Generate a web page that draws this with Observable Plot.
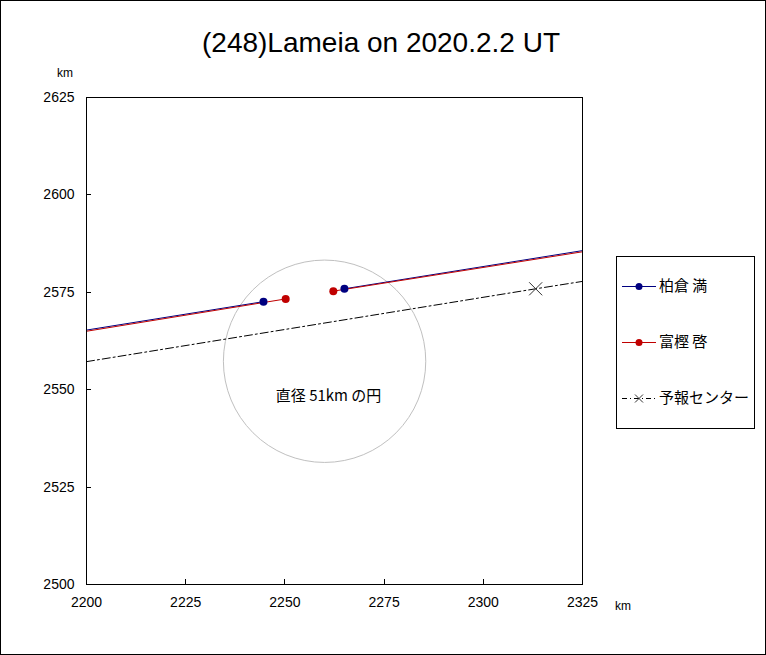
<!DOCTYPE html>
<html>
<head>
<meta charset="utf-8">
<script src="https://cdn.jsdelivr.net/npm/d3@7"></script>
<script src="https://cdn.jsdelivr.net/npm/@observablehq/plot@0.6"></script>
<style>
  body { margin: 0; background: #fff; }
  #chart { width: 766px; height: 655px; }
  svg { display: block; }
</style>
</head>
<body>
<div id="chart"></div>
<script>
// ---- data ----
const title = "(248)Lameia on 2020.2.2 UT";
const xTicks = [2200, 2225, 2250, 2275, 2300, 2325];
const yTicks = [2500, 2525, 2550, 2575, 2600, 2625];
const seriesNames = ["柏倉 満", "富樫 啓", "予報センター"];
const seriesColors = ["#000080", "#c00000", "#000000"];

// observer 1 (柏倉 満): chord line points (x, y) ; indices 1,2 = disappearance / reappearance
const obs1X = [2200, 2244.6, 2265.0, 2325];
const obs1Y = [2565.3, 2572.6, 2575.9, 2585.7];
// observer 2 (富樫 啓)
const obs2X = [2200, 2250.2, 2262.2, 2325];
const obs2Y = [2565.0, 2573.3, 2575.3, 2585.4];
// prediction centre line; index 1 = predicted centre
const predX = [2200, 2313.2, 2325];
const predY = [2557.2, 2575.9, 2577.8];

const circleCenter = [2260.0, 2557.3];
const circleDiameter = 51; // km
const circleLabel = "直径 51km の円";
const circleLabelPos = [2261.0, 2548.3];

// ---- build tables ----
function segs(X, Y, name) {
  return [
    {x: X[0], y: Y[0], z: name + "a"}, {x: X[1], y: Y[1], z: name + "a"},
    {x: X[2], y: Y[2], z: name + "b"}, {x: X[3], y: Y[3], z: name + "b"}
  ];
}
const line1 = segs(obs1X, obs1Y, "o1");
const line2 = segs(obs2X, obs2Y, "o2");
const dots1 = [1, 2].map(i => ({x: obs1X[i], y: obs1Y[i]}));
const dots2 = [1, 2].map(i => ({x: obs2X[i], y: obs2Y[i]}));
const pred = predX.map((x, i) => ({x, y: predY[i]}));

const W = 766, H = 655;
const mL = 86, mR = 184, mT = 97, mB = 71;
const pxPerKm = (W - mL - mR) / (xTicks[xTicks.length - 1] - xTicks[0]);
const FONT = "'Liberation Sans', 'Noto Sans CJK JP', sans-serif";
const JFONT = "'Noto Sans CJK JP', sans-serif";

const plot = Plot.plot({
  width: W, height: H,
  marginLeft: mL, marginRight: mR, marginTop: mT, marginBottom: mB,
  style: {background: "#fff", fontFamily: FONT, fontSize: "14px", color: "#000"},
  x: {domain: [2200, 2325], ticks: xTicks},
  y: {domain: [2500, 2625], ticks: yTicks},
  marks: [
    Plot.axisX({ticks: xTicks, tickSize: 0, tickPadding: 13, tickFormat: d => String(d), label: null, fontSize: 14}),
    Plot.axisY({ticks: yTicks, tickSize: 0, tickPadding: 12, tickFormat: d => String(d), label: null, fontSize: 14}),
    Plot.dot([{x: circleCenter[0], y: circleCenter[1]}], {x: "x", y: "y", r: circleDiameter / 2 * pxPerKm, stroke: "#c0c0c0", fill: "none", strokeWidth: 1}),
    Plot.text([{x: circleLabelPos[0], y: circleLabelPos[1]}], {x: "x", y: "y", text: () => circleLabel, fontSize: 15, fontFamily: JFONT, fill: "#000"}),
    Plot.line(pred, {x: "x", y: "y", stroke: "#000", strokeWidth: 1, strokeDasharray: "8,3,2,3", clip: true}),
    Plot.dot([pred[1]], {x: "x", y: "y", symbol: "times", r: 6, stroke: "#333", strokeWidth: 1}),
    Plot.line(line1, {x: "x", y: "y", z: "z", stroke: seriesColors[0], strokeWidth: 1, clip: true}),
    Plot.line(line2, {x: "x", y: "y", z: "z", stroke: seriesColors[1], strokeWidth: 1, clip: true}),
    Plot.dot(dots1, {x: "x", y: "y", r: 4, fill: seriesColors[0]}),
    Plot.dot(dots2, {x: "x", y: "y", r: 4, fill: seriesColors[1]}),
    Plot.frame({stroke: "#000", strokeWidth: 1})
  ]
});

document.getElementById("chart").appendChild(plot);

// ---- inward tick marks using the plot's scales ----
const sx = plot.scale("x"), sy = plot.scale("y");
const svg = d3.select(plot);
const tg = svg.append("g").attr("stroke", "#000").attr("stroke-width", 1);
xTicks.slice(1, -1).forEach(v => {
  const x = Math.round(sx.apply(v)) + 0.5;
  tg.append("line").attr("x1", x).attr("x2", x).attr("y1", H - mB).attr("y2", H - mB - 5);
});
yTicks.slice(1, -1).forEach(v => {
  const y = Math.round(sy.apply(v)) + 0.5;
  tg.append("line").attr("x1", mL).attr("x2", mL + 5).attr("y1", y).attr("y2", y);
});

// ---- decorations: page border, title, unit labels, legend ----
svg.append("rect").attr("x", 0.5).attr("y", 0.5).attr("width", W - 1).attr("height", H - 1)
  .attr("fill", "none").attr("stroke", "#000").attr("stroke-width", 1);

svg.append("text").attr("x", 381).attr("y", 52).attr("text-anchor", "middle")
  .attr("font-family", FONT).attr("font-size", 28).attr("fill", "#000").text(title);

svg.append("text").attr("x", 57).attr("y", 77).attr("text-anchor", "start").attr("font-family", FONT).attr("font-size", 12).attr("fill", "#000").text("km");
svg.append("text").attr("x", 615).attr("y", 610).attr("text-anchor", "start").attr("font-family", FONT).attr("font-size", 12).attr("fill", "#000").text("km");

const lg = svg.append("g").attr("transform", "translate(616,256)");
lg.append("rect").attr("x", 0.5).attr("y", 0.5).attr("width", 138).attr("height", 172)
  .attr("fill", "#fff").attr("stroke", "#000");
seriesNames.forEach((name, i) => {
  const y = 30 + i * 56;
  const g = lg.append("g").attr("transform", `translate(0,${y})`);
  if (i < 2) {
    g.append("line").attr("x1", 6).attr("x2", 40).attr("y1", 0.5).attr("y2", 0.5).attr("stroke", seriesColors[i]);
    g.append("circle").attr("cx", 23).attr("cy", 0.5).attr("r", 3.5).attr("fill", seriesColors[i]);
  } else {
    g.append("line").attr("x1", 6).attr("x2", 40).attr("y1", 0.5).attr("y2", 0.5).attr("stroke", "#000").attr("stroke-dasharray", "5,3,1,3");
    g.append("path").attr("d", "M19,-3.5L27,4.5M19,4.5L27,-3.5").attr("stroke", "#333").attr("fill", "none");
  }
  g.append("text").attr("x", 43).attr("y", 0).attr("dy", "0.35em").attr("text-anchor", "start")
    .attr("font-family", JFONT).attr("font-size", 15).attr("fill", "#000").text(name);
});
</script>
</body>
</html>
